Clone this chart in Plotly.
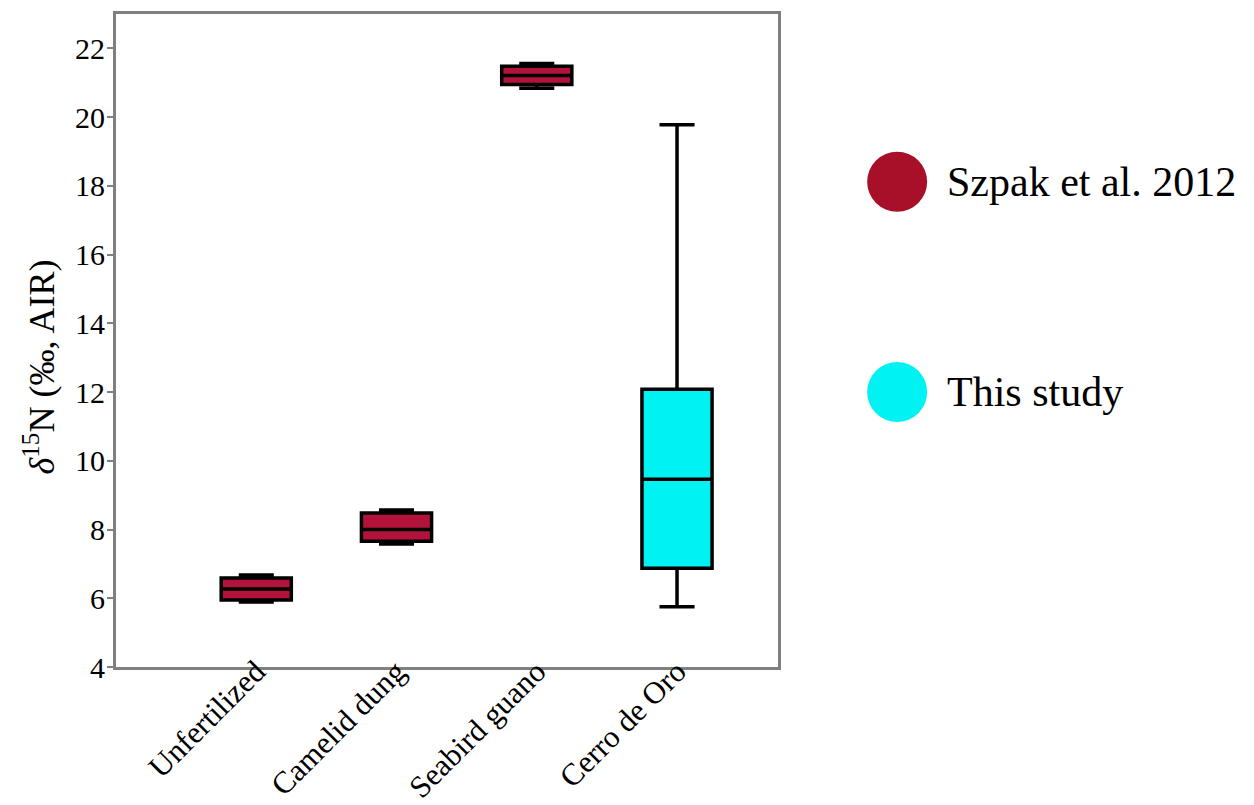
import plotly.graph_objects as go

categories = ["Unfertilized", "Camelid dung", "Seabird guano", "Cerro de Oro"]

szpak_cats = ["Unfertilized", "Camelid dung", "Seabird guano"]
szpak_min = [5.89, 7.58, 20.84]
szpak_q1 = [5.95, 7.66, 20.95]
szpak_median = [6.27, 8.0, 21.21]
szpak_q3 = [6.59, 8.48, 21.48]
szpak_max = [6.68, 8.57, 21.56]

study_cats = ["Cerro de Oro"]
study_min = [5.75]
study_q1 = [6.87]
study_median = [9.46]
study_q3 = [12.08]
study_max = [19.78]

legend_labels = ["Szpak et al. 2012", "This study"]
y_ticks = [4, 6, 8, 10, 12, 14, 16, 18, 20, 22]
y_title = "<i>δ</i><sup>15</sup>N (‰, AIR)"

SERIF = "Liberation Serif"
RED = "#A8102A"
CYAN = "#00F2F2"

fig = go.Figure()
fig.add_trace(go.Box(
    x=szpak_cats, q1=szpak_q1, median=szpak_median, q3=szpak_q3,
    lowerfence=szpak_min, upperfence=szpak_max,
    fillcolor="#B3123A", line=dict(color="black", width=3.5),
    width=0.5, whiskerwidth=0.5, showlegend=False, hoverinfo="skip",
))
fig.add_trace(go.Box(
    x=study_cats, q1=study_q1, median=study_median, q3=study_q3,
    lowerfence=study_min, upperfence=study_max,
    fillcolor=CYAN, line=dict(color="black", width=3.5),
    width=0.5, whiskerwidth=0.5, showlegend=False, hoverinfo="skip",
))

# manual legend
legend_colors = [RED, CYAN]
legend_y = [0.743, 0.421]
for lab, col, yy in zip(legend_labels, legend_colors, legend_y):
    fig.add_shape(type="circle", xref="paper", yref="paper",
                  xsizemode="pixel", ysizemode="pixel",
                  xanchor=1.18, yanchor=yy, x0=-30, x1=30, y0=-30, y1=30,
                  fillcolor=col, line=dict(color=col, width=0))
    fig.add_annotation(x=1.252, y=yy, xref="paper", yref="paper",
                       text=lab, showarrow=False, xanchor="left", yanchor="middle",
                       font=dict(family=SERIF, size=42, color="black"))

# y-axis title
fig.add_annotation(x=-0.115, y=0.46, xref="paper", yref="paper",
                   text=y_title, textangle=-90, showarrow=False,
                   xanchor="center", yanchor="middle",
                   font=dict(family=SERIF, size=36, color="black"))

fig.update_layout(
    width=1254, height=805,
    margin=dict(l=116, r=476, t=14, b=138, autoexpand=False),
    paper_bgcolor="white", plot_bgcolor="white",
    boxmode="overlay",
    font=dict(family=SERIF, color="black"),
)
fig.update_xaxes(
    type="category", categoryorder="array", categoryarray=categories,
    range=[-1.0, 3.72], tickangle=-45, tickfont=dict(size=31, family=SERIF),
    showline=True, linecolor="#808080", linewidth=3, mirror=True,
    showgrid=False, ticks="", zeroline=False, automargin=False,
    ticklabelstandoff=-29,
)
fig.update_yaxes(
    range=[4, 23], tickvals=y_ticks, tickfont=dict(size=30, family=SERIF),
    showline=True, linecolor="#808080", linewidth=3, mirror=True,
    showgrid=False, ticks="outside", ticklen=6, tickwidth=2, tickcolor="#808080",
    zeroline=False, automargin=False, ticklabelstandoff=-4,
)

fig.write_html("out.html", config={"displayModeBar": False},
               post_script="document.body.style.margin='0px';")
